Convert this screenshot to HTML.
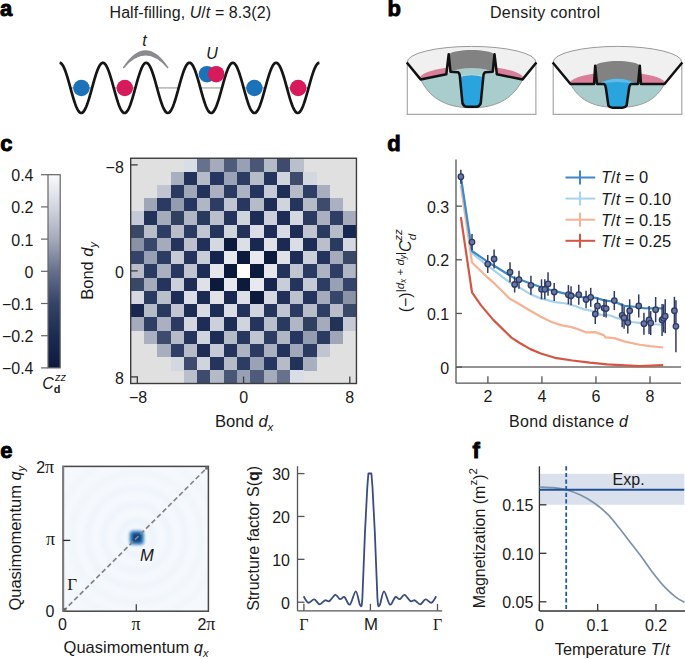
<!DOCTYPE html>
<html><head><meta charset="utf-8"><style>
html,body{margin:0;padding:0;background:#fff;}
body{width:685px;height:659px;overflow:hidden;font-family:"Liberation Sans", sans-serif;}
svg{display:block;}
</style></head><body>
<svg width="685" height="659" viewBox="0 0 685 659" fill="#1a1a1a">
<text x="0" y="15.8" font-size="22" font-weight="bold" font-family='"Liberation Sans", sans-serif' stroke="#000" stroke-width="0.9" fill="#000">a</text>
<text x="387.5" y="15.7" font-size="22" font-weight="bold" font-family='"Liberation Sans", sans-serif' stroke="#000" stroke-width="0.9" fill="#000">b</text>
<text x="0.3" y="151" font-size="22" font-weight="bold" font-family='"Liberation Sans", sans-serif' stroke="#000" stroke-width="0.9" fill="#000">c</text>
<text x="387.3" y="150.8" font-size="22" font-weight="bold" font-family='"Liberation Sans", sans-serif' stroke="#000" stroke-width="0.9" fill="#000">d</text>
<text x="0.2" y="458" font-size="22" font-weight="bold" font-family='"Liberation Sans", sans-serif' stroke="#000" stroke-width="0.9" fill="#000">e</text>
<text x="472.6" y="457.8" font-size="22" font-weight="bold" font-family='"Liberation Sans", sans-serif' stroke="#000" stroke-width="0.9" fill="#000">f</text>
<text x="109.50" y="17.90" font-size="16" text-anchor="start" font-family='"Liberation Sans", sans-serif'  textLength="161.5" lengthAdjust="spacing">Half-filling, <tspan font-style="italic">U</tspan>/<tspan font-style="italic">t</tspan> = 8.3(2)</text>
<line x1="69.75" y1="87.9" x2="92.75" y2="87.9" stroke="#b4b4b4" stroke-width="1.5"/>
<line x1="113.05" y1="87.9" x2="136.05" y2="87.9" stroke="#b4b4b4" stroke-width="1.5"/>
<line x1="156.35" y1="87.9" x2="179.35" y2="87.9" stroke="#b4b4b4" stroke-width="1.5"/>
<line x1="199.65" y1="87.9" x2="222.65" y2="87.9" stroke="#b4b4b4" stroke-width="1.5"/>
<line x1="242.95" y1="87.9" x2="265.95" y2="87.9" stroke="#b4b4b4" stroke-width="1.5"/>
<line x1="286.25" y1="87.9" x2="309.25" y2="87.9" stroke="#b4b4b4" stroke-width="1.5"/>
<polyline points="59.60,62.80 60.25,62.91 60.90,63.24 61.55,63.80 62.20,64.56 62.85,65.54 63.50,66.71 64.15,68.07 64.80,69.60 65.45,71.30 66.09,73.15 66.74,75.12 67.39,77.21 68.04,79.40 68.69,81.66 69.34,83.97 69.99,86.32 70.64,88.69 71.29,91.05 71.94,93.38 72.59,95.66 73.24,97.87 73.89,99.99 74.54,102.01 75.19,103.90 75.84,105.65 76.49,107.24 77.14,108.66 77.79,109.90 78.44,110.94 79.08,111.77 79.73,112.40 80.38,112.80 81.03,112.99 81.68,112.95 82.33,112.69 82.98,112.21 83.63,111.52 84.28,110.61 84.93,109.50 85.58,108.21 86.23,106.73 86.88,105.08 87.53,103.28 88.18,101.35 88.83,99.30 89.48,97.14 90.13,94.90 90.78,92.60 91.43,90.26 92.07,87.90 92.72,85.54 93.37,83.20 94.02,80.90 94.67,78.66 95.32,76.50 95.97,74.45 96.62,72.52 97.27,70.72 97.92,69.07 98.57,67.59 99.22,66.30 99.87,65.19 100.52,64.28 101.17,63.59 101.82,63.11 102.47,62.85 103.12,62.81 103.77,63.00 104.42,63.40 105.06,64.03 105.71,64.86 106.36,65.90 107.01,67.14 107.66,68.56 108.31,70.15 108.96,71.90 109.61,73.79 110.26,75.81 110.91,77.93 111.56,80.14 112.21,82.42 112.86,84.75 113.51,87.11 114.16,89.48 114.81,91.83 115.46,94.14 116.11,96.40 116.76,98.59 117.41,100.68 118.05,102.65 118.70,104.50 119.35,106.20 120.00,107.73 120.65,109.09 121.30,110.26 121.95,111.24 122.60,112.00 123.25,112.56 123.90,112.89 124.55,113.00 125.20,112.89 125.85,112.56 126.50,112.00 127.15,111.24 127.80,110.26 128.45,109.09 129.10,107.73 129.75,106.20 130.40,104.50 131.04,102.65 131.69,100.68 132.34,98.59 132.99,96.40 133.64,94.14 134.29,91.83 134.94,89.48 135.59,87.11 136.24,84.75 136.89,82.42 137.54,80.14 138.19,77.93 138.84,75.81 139.49,73.79 140.14,71.90 140.79,70.15 141.44,68.56 142.09,67.14 142.74,65.90 143.39,64.86 144.03,64.03 144.68,63.40 145.33,63.00 145.98,62.81 146.63,62.85 147.28,63.11 147.93,63.59 148.58,64.28 149.23,65.19 149.88,66.30 150.53,67.59 151.18,69.07 151.83,70.72 152.48,72.52 153.13,74.45 153.78,76.50 154.43,78.66 155.08,80.90 155.73,83.20 156.38,85.54 157.02,87.90 157.67,90.26 158.32,92.60 158.97,94.90 159.62,97.14 160.27,99.30 160.92,101.35 161.57,103.28 162.22,105.08 162.87,106.73 163.52,108.21 164.17,109.50 164.82,110.61 165.47,111.52 166.12,112.21 166.77,112.69 167.42,112.95 168.07,112.99 168.72,112.80 169.37,112.40 170.01,111.77 170.66,110.94 171.31,109.90 171.96,108.66 172.61,107.24 173.26,105.65 173.91,103.90 174.56,102.01 175.21,99.99 175.86,97.87 176.51,95.66 177.16,93.38 177.81,91.05 178.46,88.69 179.11,86.32 179.76,83.97 180.41,81.66 181.06,79.40 181.71,77.21 182.36,75.12 183.00,73.15 183.65,71.30 184.30,69.60 184.95,68.07 185.60,66.71 186.25,65.54 186.90,64.56 187.55,63.80 188.20,63.24 188.85,62.91 189.50,62.80 190.15,62.91 190.80,63.24 191.45,63.80 192.10,64.56 192.75,65.54 193.40,66.71 194.05,68.07 194.70,69.60 195.35,71.30 195.99,73.15 196.64,75.12 197.29,77.21 197.94,79.40 198.59,81.66 199.24,83.97 199.89,86.32 200.54,88.69 201.19,91.05 201.84,93.38 202.49,95.66 203.14,97.87 203.79,99.99 204.44,102.01 205.09,103.90 205.74,105.65 206.39,107.24 207.04,108.66 207.69,109.90 208.34,110.94 208.98,111.77 209.63,112.40 210.28,112.80 210.93,112.99 211.58,112.95 212.23,112.69 212.88,112.21 213.53,111.52 214.18,110.61 214.83,109.50 215.48,108.21 216.13,106.73 216.78,105.08 217.43,103.28 218.08,101.35 218.73,99.30 219.38,97.14 220.03,94.90 220.68,92.60 221.33,90.26 221.97,87.90 222.62,85.54 223.27,83.20 223.92,80.90 224.57,78.66 225.22,76.50 225.87,74.45 226.52,72.52 227.17,70.72 227.82,69.07 228.47,67.59 229.12,66.30 229.77,65.19 230.42,64.28 231.07,63.59 231.72,63.11 232.37,62.85 233.02,62.81 233.67,63.00 234.32,63.40 234.96,64.03 235.61,64.86 236.26,65.90 236.91,67.14 237.56,68.56 238.21,70.15 238.86,71.90 239.51,73.79 240.16,75.81 240.81,77.93 241.46,80.14 242.11,82.42 242.76,84.75 243.41,87.11 244.06,89.48 244.71,91.83 245.36,94.14 246.01,96.40 246.66,98.59 247.31,100.68 247.95,102.65 248.60,104.50 249.25,106.20 249.90,107.73 250.55,109.09 251.20,110.26 251.85,111.24 252.50,112.00 253.15,112.56 253.80,112.89 254.45,113.00 255.10,112.89 255.75,112.56 256.40,112.00 257.05,111.24 257.70,110.26 258.35,109.09 259.00,107.73 259.65,106.20 260.30,104.50 260.94,102.65 261.59,100.68 262.24,98.59 262.89,96.40 263.54,94.14 264.19,91.83 264.84,89.48 265.49,87.11 266.14,84.75 266.79,82.42 267.44,80.14 268.09,77.93 268.74,75.81 269.39,73.79 270.04,71.90 270.69,70.15 271.34,68.56 271.99,67.14 272.64,65.90 273.29,64.86 273.93,64.03 274.58,63.40 275.23,63.00 275.88,62.81 276.53,62.85 277.18,63.11 277.83,63.59 278.48,64.28 279.13,65.19 279.78,66.30 280.43,67.59 281.08,69.07 281.73,70.72 282.38,72.52 283.03,74.45 283.68,76.50 284.33,78.66 284.98,80.90 285.63,83.20 286.28,85.54 286.92,87.90 287.57,90.26 288.22,92.60 288.87,94.90 289.52,97.14 290.17,99.30 290.82,101.35 291.47,103.28 292.12,105.08 292.77,106.73 293.42,108.21 294.07,109.50 294.72,110.61 295.37,111.52 296.02,112.21 296.67,112.69 297.32,112.95 297.97,112.99 298.62,112.80 299.27,112.40 299.91,111.77 300.56,110.94 301.21,109.90 301.86,108.66 302.51,107.24 303.16,105.65 303.81,103.90 304.46,102.01 305.11,99.99 305.76,97.87 306.41,95.66 307.06,93.38 307.71,91.05 308.36,88.69 309.01,86.32 309.66,83.97 310.31,81.66 310.96,79.40 311.61,77.21 312.26,75.12 312.90,73.15 313.55,71.30 314.20,69.60 314.85,68.07 315.50,66.71 316.15,65.54 316.80,64.56 317.45,63.80 318.10,63.24 318.75,62.91 319.40,62.80" fill="none" stroke="#151515" stroke-width="2.7"/>
<circle cx="81.4" cy="88" r="8.3" fill="#1c72b8"/>
<circle cx="124.8" cy="88" r="8.3" fill="#d71a5c"/>
<circle cx="254.4" cy="88" r="8.3" fill="#1c72b8"/>
<circle cx="298.2" cy="88" r="8.3" fill="#d71a5c"/>
<circle cx="207" cy="74.2" r="8.3" fill="#1c72b8"/>
<circle cx="216.2" cy="74.2" r="8.3" fill="#d71a5c"/>
<path d="M122.8,67.6 Q145.5,33 168.6,67.6 L167.6,68.4 Q145.5,42.6 123.8,68.4 Z" fill="#8a8b8e"/>
<text x="142.20" y="46.20" font-size="16" text-anchor="start" font-family='"Liberation Sans", sans-serif' font-style="italic">t</text>
<text x="206.20" y="58.70" font-size="16" text-anchor="start" font-family='"Liberation Sans", sans-serif' font-style="italic">U</text>
<text x="490.00" y="17.60" font-size="16" text-anchor="start" font-family='"Liberation Sans", sans-serif'  textLength="110" lengthAdjust="spacing">Density control</text>
<path d="M407.3,62 L407.3,114.3 L535.9,114.3 L535.9,62" fill="none" stroke="#a8a8a8" stroke-width="1.2"/>
<path d="M407.3,62 A64.3,15.6 0 0 1 535.9,62 L522.6,79.4 L420.6,79.4 Z" fill="#f0f0f0"/>
<path d="M407.3,62 A64.3,15.6 0 0 1 535.9,62" fill="none" stroke="#9a9a9a" stroke-width="1"/>
<path d="M420.6,79.4 C428.6,96 443.6,107.8 471.6,107.8 C499.6,107.8 514.6,96 522.6,79.4 L491.6,72 L451.6,72 Z" fill="#a9cccc"/>
<path d="M420.6,79.4 C428.6,96 443.6,107.8 471.6,107.8 C499.6,107.8 514.6,96 522.6,79.4" fill="none" stroke="#9c9c9c" stroke-width="1"/>
<path d="M419.6,78.4 A54,13 0 0 1 447.6,67.5 L447.6,74 L420.6,79.4 Z" fill="#d97f9a"/>
<path d="M523.6,78.4 A54,13 0 0 0 495.6,67.5 L495.6,74 L522.6,79.4 Z" fill="#d97f9a"/>
<path d="M449.6,72 Q471.6,63.5 493.6,72 L493.6,77 L449.6,77 Z" fill="#a9cccc"/>
<path d="M448.8,54.6 C453.6,48.5 489.6,48.5 494.40000000000003,54.6 L494.40000000000003,72 Q471.6,64 448.8,72 Z" fill="#828282"/>
<path d="M460.0,76.5 Q471.6,73 483.20000000000005,76.5 L480.1,103.4 Q479.1,106.6 476.6,106.6 L466.6,106.6 Q464.1,106.6 463.1,103.4 Z" fill="#29a4de"/>
<path d="M460.0,76.5 Q471.6,73 483.20000000000005,76.5" fill="none" stroke="#c0d8dc" stroke-width="1"/>
<path d="M406.8,62.5 L420.6,79.4 L446.3,74.3 L448.70000000000005,54.2 L450.5,71.8 L457.8,72.2 Q459.6,73 459.8,76 L462.5,103.4 Q464.1,106.8 466.6,106.8 L476.6,106.8 Q479.1,106.8 480.70000000000005,103.4 L483.40000000000003,76 Q483.6,73 485.40000000000003,72.2 L492.70000000000005,71.8 L494.5,54.2 L496.90000000000003,74.3 L522.6,79.4 L536.4,62.5" fill="none" stroke="#111" stroke-width="2.5" stroke-linejoin="round"/>
<path d="M553.2,62 L553.2,114.3 L681.8000000000001,114.3 L681.8000000000001,62" fill="none" stroke="#a8a8a8" stroke-width="1.2"/>
<path d="M553.2,62 A64.3,15.6 0 0 1 681.8000000000001,62 L664.5000000000001,84 L570.5,84 Z" fill="#f0f0f0"/>
<path d="M553.2,62 A64.3,15.6 0 0 1 681.8000000000001,62" fill="none" stroke="#9a9a9a" stroke-width="1"/>
<path d="M570.5,84 C578.5,99 591.5,107.5 617.5,107.5 C643.5,107.5 656.5000000000001,99 664.5000000000001,84 Z" fill="#a9cccc"/>
<path d="M570.5,84 C578.5,99 591.5,107.5 617.5,107.5 C643.5,107.5 656.5000000000001,99 664.5000000000001,84" fill="none" stroke="#9c9c9c" stroke-width="1"/>
<path d="M569.5,83.5 A48,12 0 0 1 597.5,73.2 L597.5,84 L570.5,84 Z" fill="#d97f9a"/>
<path d="M665.5000000000001,83.5 A48,12 0 0 0 637.5,73.2 L637.5,84 L664.5000000000001,84 Z" fill="#d97f9a"/>
<path d="M595.2,65.7 C600.5,59.5 634.5,59.5 639.8,65.7 L639.8,84 L595.2,84 Z" fill="#828282"/>
<path d="M596.7,84.5 Q617.5,73 638.3,84.5 L629.5,84.5 L626.6,105.5 Q625.0,107.6 622.5,107.6 L612.5,107.6 Q610.0,107.6 608.4,105.5 L605.5,84.5 Z" fill="#29a4de"/>
<path d="M596.7,84.5 Q617.5,73 638.3,84.5 Q617.5,79.5 596.7,84.5 Z" fill="#5fbbe8"/>
<path d="M552.7,62.5 L570.5,84 L594.0,84 L595.2,65.7 L597.0,84 L604.1,84 Q605.5,85 605.9,88 L608.4,105.5 Q610.0,107.8 612.5,107.8 L622.5,107.8 Q625.0,107.8 626.6,105.5 L629.1,88 Q629.5,85 630.9,84 L638.0,84 L639.8,65.7 L641.0,84 L664.5000000000001,84 L682.3000000000001,62.5" fill="none" stroke="#111" stroke-width="2.5" stroke-linejoin="round"/>
<rect x="130.7" y="158.25" width="225.76" height="225.25" fill="#e0e0e0"/>
<rect x="183.82" y="158.25" width="13.58" height="13.55" fill="#d9dde6" shape-rendering="crispEdges"/>
<rect x="197.10" y="158.25" width="13.58" height="13.55" fill="#67718c" shape-rendering="crispEdges"/>
<rect x="210.38" y="158.25" width="13.58" height="13.55" fill="#a5abbb" shape-rendering="crispEdges"/>
<rect x="223.66" y="158.25" width="13.58" height="13.55" fill="#4f5b7b" shape-rendering="crispEdges"/>
<rect x="236.94" y="158.25" width="13.58" height="13.55" fill="#98a0b3" shape-rendering="crispEdges"/>
<rect x="250.22" y="158.25" width="13.58" height="13.55" fill="#4a5675" shape-rendering="crispEdges"/>
<rect x="263.50" y="158.25" width="13.58" height="13.55" fill="#b5bac7" shape-rendering="crispEdges"/>
<rect x="276.78" y="158.25" width="13.58" height="13.55" fill="#3e4b6c" shape-rendering="crispEdges"/>
<rect x="290.06" y="158.25" width="13.58" height="13.55" fill="#b9bfcb" shape-rendering="crispEdges"/>
<rect x="170.54" y="171.50" width="13.58" height="13.55" fill="#a8afbe" shape-rendering="crispEdges"/>
<rect x="183.82" y="171.50" width="13.58" height="13.55" fill="#22335a" shape-rendering="crispEdges"/>
<rect x="197.10" y="171.50" width="13.58" height="13.55" fill="#b5bbc7" shape-rendering="crispEdges"/>
<rect x="210.38" y="171.50" width="13.58" height="13.55" fill="#263660" shape-rendering="crispEdges"/>
<rect x="223.66" y="171.50" width="13.58" height="13.55" fill="#9aa2b5" shape-rendering="crispEdges"/>
<rect x="236.94" y="171.50" width="13.58" height="13.55" fill="#2c3c62" shape-rendering="crispEdges"/>
<rect x="250.22" y="171.50" width="13.58" height="13.55" fill="#b5bbc7" shape-rendering="crispEdges"/>
<rect x="263.50" y="171.50" width="13.58" height="13.55" fill="#24345c" shape-rendering="crispEdges"/>
<rect x="276.78" y="171.50" width="13.58" height="13.55" fill="#d0d4dd" shape-rendering="crispEdges"/>
<rect x="290.06" y="171.50" width="13.58" height="13.55" fill="#3e4b6c" shape-rendering="crispEdges"/>
<rect x="303.34" y="171.50" width="13.58" height="13.55" fill="#d3d7e0" shape-rendering="crispEdges"/>
<rect x="157.26" y="184.75" width="13.58" height="13.55" fill="#c0c5d1" shape-rendering="crispEdges"/>
<rect x="170.54" y="184.75" width="13.58" height="13.55" fill="#2a3a60" shape-rendering="crispEdges"/>
<rect x="183.82" y="184.75" width="13.58" height="13.55" fill="#a0a7b8" shape-rendering="crispEdges"/>
<rect x="197.10" y="184.75" width="13.58" height="13.55" fill="#22325a" shape-rendering="crispEdges"/>
<rect x="210.38" y="184.75" width="13.58" height="13.55" fill="#aab0bf" shape-rendering="crispEdges"/>
<rect x="223.66" y="184.75" width="13.58" height="13.55" fill="#2a3a60" shape-rendering="crispEdges"/>
<rect x="236.94" y="184.75" width="13.58" height="13.55" fill="#adb3c2" shape-rendering="crispEdges"/>
<rect x="250.22" y="184.75" width="13.58" height="13.55" fill="#24345c" shape-rendering="crispEdges"/>
<rect x="263.50" y="184.75" width="13.58" height="13.55" fill="#c5cad6" shape-rendering="crispEdges"/>
<rect x="276.78" y="184.75" width="13.58" height="13.55" fill="#1e2d55" shape-rendering="crispEdges"/>
<rect x="290.06" y="184.75" width="13.58" height="13.55" fill="#b5bbc7" shape-rendering="crispEdges"/>
<rect x="303.34" y="184.75" width="13.58" height="13.55" fill="#2e3e64" shape-rendering="crispEdges"/>
<rect x="316.62" y="184.75" width="13.58" height="13.55" fill="#a8aebd" shape-rendering="crispEdges"/>
<rect x="143.98" y="198.00" width="13.58" height="13.55" fill="#a0a6b7" shape-rendering="crispEdges"/>
<rect x="157.26" y="198.00" width="13.58" height="13.55" fill="#2a3a60" shape-rendering="crispEdges"/>
<rect x="170.54" y="198.00" width="13.58" height="13.55" fill="#949cb0" shape-rendering="crispEdges"/>
<rect x="183.82" y="198.00" width="13.58" height="13.55" fill="#263660" shape-rendering="crispEdges"/>
<rect x="197.10" y="198.00" width="13.58" height="13.55" fill="#b0b6c4" shape-rendering="crispEdges"/>
<rect x="210.38" y="198.00" width="13.58" height="13.55" fill="#2c3c62" shape-rendering="crispEdges"/>
<rect x="223.66" y="198.00" width="13.58" height="13.55" fill="#c0c5d1" shape-rendering="crispEdges"/>
<rect x="236.94" y="198.00" width="13.58" height="13.55" fill="#273760" shape-rendering="crispEdges"/>
<rect x="250.22" y="198.00" width="13.58" height="13.55" fill="#b5bbc7" shape-rendering="crispEdges"/>
<rect x="263.50" y="198.00" width="13.58" height="13.55" fill="#1e2d55" shape-rendering="crispEdges"/>
<rect x="276.78" y="198.00" width="13.58" height="13.55" fill="#d0d4dd" shape-rendering="crispEdges"/>
<rect x="290.06" y="198.00" width="13.58" height="13.55" fill="#24345c" shape-rendering="crispEdges"/>
<rect x="303.34" y="198.00" width="13.58" height="13.55" fill="#b5bbc7" shape-rendering="crispEdges"/>
<rect x="316.62" y="198.00" width="13.58" height="13.55" fill="#3e4b6c" shape-rendering="crispEdges"/>
<rect x="329.90" y="198.00" width="13.58" height="13.55" fill="#aab0bf" shape-rendering="crispEdges"/>
<rect x="130.70" y="211.25" width="13.58" height="13.55" fill="#c5cad6" shape-rendering="crispEdges"/>
<rect x="143.98" y="211.25" width="13.58" height="13.55" fill="#22335a" shape-rendering="crispEdges"/>
<rect x="157.26" y="211.25" width="13.58" height="13.55" fill="#a5abbb" shape-rendering="crispEdges"/>
<rect x="170.54" y="211.25" width="13.58" height="13.55" fill="#30405f" shape-rendering="crispEdges"/>
<rect x="183.82" y="211.25" width="13.58" height="13.55" fill="#b0b6c4" shape-rendering="crispEdges"/>
<rect x="197.10" y="211.25" width="13.58" height="13.55" fill="#293a5f" shape-rendering="crispEdges"/>
<rect x="210.38" y="211.25" width="13.58" height="13.55" fill="#b9bfcb" shape-rendering="crispEdges"/>
<rect x="223.66" y="211.25" width="13.58" height="13.55" fill="#24345c" shape-rendering="crispEdges"/>
<rect x="236.94" y="211.25" width="13.58" height="13.55" fill="#d0d4dd" shape-rendering="crispEdges"/>
<rect x="250.22" y="211.25" width="13.58" height="13.55" fill="#1e2d55" shape-rendering="crispEdges"/>
<rect x="263.50" y="211.25" width="13.58" height="13.55" fill="#ccd0da" shape-rendering="crispEdges"/>
<rect x="276.78" y="211.25" width="13.58" height="13.55" fill="#1e2d55" shape-rendering="crispEdges"/>
<rect x="290.06" y="211.25" width="13.58" height="13.55" fill="#d3d7e0" shape-rendering="crispEdges"/>
<rect x="303.34" y="211.25" width="13.58" height="13.55" fill="#2a3a60" shape-rendering="crispEdges"/>
<rect x="316.62" y="211.25" width="13.58" height="13.55" fill="#aab0bf" shape-rendering="crispEdges"/>
<rect x="329.90" y="211.25" width="13.58" height="13.55" fill="#2e3e64" shape-rendering="crispEdges"/>
<rect x="343.18" y="211.25" width="13.58" height="13.55" fill="#a5abbb" shape-rendering="crispEdges"/>
<rect x="130.70" y="224.50" width="13.58" height="13.55" fill="#3a4868" shape-rendering="crispEdges"/>
<rect x="143.98" y="224.50" width="13.58" height="13.55" fill="#b8bdc9" shape-rendering="crispEdges"/>
<rect x="157.26" y="224.50" width="13.58" height="13.55" fill="#2d3d63" shape-rendering="crispEdges"/>
<rect x="170.54" y="224.50" width="13.58" height="13.55" fill="#b8bdc9" shape-rendering="crispEdges"/>
<rect x="183.82" y="224.50" width="13.58" height="13.55" fill="#2a3a60" shape-rendering="crispEdges"/>
<rect x="197.10" y="224.50" width="13.58" height="13.55" fill="#c0c5d1" shape-rendering="crispEdges"/>
<rect x="210.38" y="224.50" width="13.58" height="13.55" fill="#24345c" shape-rendering="crispEdges"/>
<rect x="223.66" y="224.50" width="13.58" height="13.55" fill="#d0d4dd" shape-rendering="crispEdges"/>
<rect x="236.94" y="224.50" width="13.58" height="13.55" fill="#22325a" shape-rendering="crispEdges"/>
<rect x="250.22" y="224.50" width="13.58" height="13.55" fill="#dadde5" shape-rendering="crispEdges"/>
<rect x="263.50" y="224.50" width="13.58" height="13.55" fill="#1e2d55" shape-rendering="crispEdges"/>
<rect x="276.78" y="224.50" width="13.58" height="13.55" fill="#d8dbe3" shape-rendering="crispEdges"/>
<rect x="290.06" y="224.50" width="13.58" height="13.55" fill="#1e2d55" shape-rendering="crispEdges"/>
<rect x="303.34" y="224.50" width="13.58" height="13.55" fill="#c0c5d1" shape-rendering="crispEdges"/>
<rect x="316.62" y="224.50" width="13.58" height="13.55" fill="#293a5f" shape-rendering="crispEdges"/>
<rect x="329.90" y="224.50" width="13.58" height="13.55" fill="#b5bbc7" shape-rendering="crispEdges"/>
<rect x="343.18" y="224.50" width="13.58" height="13.55" fill="#172750" shape-rendering="crispEdges"/>
<rect x="130.70" y="237.75" width="13.58" height="13.55" fill="#8a93a6" shape-rendering="crispEdges"/>
<rect x="143.98" y="237.75" width="13.58" height="13.55" fill="#37466a" shape-rendering="crispEdges"/>
<rect x="157.26" y="237.75" width="13.58" height="13.55" fill="#a5abbb" shape-rendering="crispEdges"/>
<rect x="170.54" y="237.75" width="13.58" height="13.55" fill="#24345c" shape-rendering="crispEdges"/>
<rect x="183.82" y="237.75" width="13.58" height="13.55" fill="#bcc1cd" shape-rendering="crispEdges"/>
<rect x="197.10" y="237.75" width="13.58" height="13.55" fill="#203059" shape-rendering="crispEdges"/>
<rect x="210.38" y="237.75" width="13.58" height="13.55" fill="#d5d8e0" shape-rendering="crispEdges"/>
<rect x="223.66" y="237.75" width="13.58" height="13.55" fill="#0c1a3c" shape-rendering="crispEdges"/>
<rect x="236.94" y="237.75" width="13.58" height="13.55" fill="#dcdfe6" shape-rendering="crispEdges"/>
<rect x="250.22" y="237.75" width="13.58" height="13.55" fill="#182850" shape-rendering="crispEdges"/>
<rect x="263.50" y="237.75" width="13.58" height="13.55" fill="#e0e2e8" shape-rendering="crispEdges"/>
<rect x="276.78" y="237.75" width="13.58" height="13.55" fill="#1a2a52" shape-rendering="crispEdges"/>
<rect x="290.06" y="237.75" width="13.58" height="13.55" fill="#dadde5" shape-rendering="crispEdges"/>
<rect x="303.34" y="237.75" width="13.58" height="13.55" fill="#1e2d55" shape-rendering="crispEdges"/>
<rect x="316.62" y="237.75" width="13.58" height="13.55" fill="#b9bfcb" shape-rendering="crispEdges"/>
<rect x="329.90" y="237.75" width="13.58" height="13.55" fill="#2a3a60" shape-rendering="crispEdges"/>
<rect x="343.18" y="237.75" width="13.58" height="13.55" fill="#d5d8e0" shape-rendering="crispEdges"/>
<rect x="130.70" y="251.00" width="13.58" height="13.55" fill="#34436a" shape-rendering="crispEdges"/>
<rect x="143.98" y="251.00" width="13.58" height="13.55" fill="#98a0b3" shape-rendering="crispEdges"/>
<rect x="157.26" y="251.00" width="13.58" height="13.55" fill="#2c3c62" shape-rendering="crispEdges"/>
<rect x="170.54" y="251.00" width="13.58" height="13.55" fill="#c5cad6" shape-rendering="crispEdges"/>
<rect x="183.82" y="251.00" width="13.58" height="13.55" fill="#24345c" shape-rendering="crispEdges"/>
<rect x="197.10" y="251.00" width="13.58" height="13.55" fill="#c9cdd8" shape-rendering="crispEdges"/>
<rect x="210.38" y="251.00" width="13.58" height="13.55" fill="#15254d" shape-rendering="crispEdges"/>
<rect x="223.66" y="251.00" width="13.58" height="13.55" fill="#e8e9ee" shape-rendering="crispEdges"/>
<rect x="236.94" y="251.00" width="13.58" height="13.55" fill="#0c1a3c" shape-rendering="crispEdges"/>
<rect x="250.22" y="251.00" width="13.58" height="13.55" fill="#e8e9ee" shape-rendering="crispEdges"/>
<rect x="263.50" y="251.00" width="13.58" height="13.55" fill="#0c1a3c" shape-rendering="crispEdges"/>
<rect x="276.78" y="251.00" width="13.58" height="13.55" fill="#dfe1e7" shape-rendering="crispEdges"/>
<rect x="290.06" y="251.00" width="13.58" height="13.55" fill="#1e2d55" shape-rendering="crispEdges"/>
<rect x="303.34" y="251.00" width="13.58" height="13.55" fill="#ccd0da" shape-rendering="crispEdges"/>
<rect x="316.62" y="251.00" width="13.58" height="13.55" fill="#24345c" shape-rendering="crispEdges"/>
<rect x="329.90" y="251.00" width="13.58" height="13.55" fill="#a5abbb" shape-rendering="crispEdges"/>
<rect x="343.18" y="251.00" width="13.58" height="13.55" fill="#3a4868" shape-rendering="crispEdges"/>
<rect x="130.70" y="264.25" width="13.58" height="13.55" fill="#b8bdc9" shape-rendering="crispEdges"/>
<rect x="143.98" y="264.25" width="13.58" height="13.55" fill="#2a3a60" shape-rendering="crispEdges"/>
<rect x="157.26" y="264.25" width="13.58" height="13.55" fill="#aab0bf" shape-rendering="crispEdges"/>
<rect x="170.54" y="264.25" width="13.58" height="13.55" fill="#273760" shape-rendering="crispEdges"/>
<rect x="183.82" y="264.25" width="13.58" height="13.55" fill="#c0c5d1" shape-rendering="crispEdges"/>
<rect x="197.10" y="264.25" width="13.58" height="13.55" fill="#1e2d55" shape-rendering="crispEdges"/>
<rect x="210.38" y="264.25" width="13.58" height="13.55" fill="#e4e6ec" shape-rendering="crispEdges"/>
<rect x="223.66" y="264.25" width="13.58" height="13.55" fill="#0c1a3c" shape-rendering="crispEdges"/>
<rect x="236.94" y="264.25" width="13.58" height="13.55" fill="#ffffff" shape-rendering="crispEdges"/>
<rect x="250.22" y="264.25" width="13.58" height="13.55" fill="#0c1a3c" shape-rendering="crispEdges"/>
<rect x="263.50" y="264.25" width="13.58" height="13.55" fill="#e4e6ec" shape-rendering="crispEdges"/>
<rect x="276.78" y="264.25" width="13.58" height="13.55" fill="#22325a" shape-rendering="crispEdges"/>
<rect x="290.06" y="264.25" width="13.58" height="13.55" fill="#c0c5d1" shape-rendering="crispEdges"/>
<rect x="303.34" y="264.25" width="13.58" height="13.55" fill="#2a3a60" shape-rendering="crispEdges"/>
<rect x="316.62" y="264.25" width="13.58" height="13.55" fill="#adb3c2" shape-rendering="crispEdges"/>
<rect x="329.90" y="264.25" width="13.58" height="13.55" fill="#2e3e64" shape-rendering="crispEdges"/>
<rect x="343.18" y="264.25" width="13.58" height="13.55" fill="#b0b6c4" shape-rendering="crispEdges"/>
<rect x="130.70" y="277.50" width="13.58" height="13.55" fill="#3a4868" shape-rendering="crispEdges"/>
<rect x="143.98" y="277.50" width="13.58" height="13.55" fill="#a5abbb" shape-rendering="crispEdges"/>
<rect x="157.26" y="277.50" width="13.58" height="13.55" fill="#24345c" shape-rendering="crispEdges"/>
<rect x="170.54" y="277.50" width="13.58" height="13.55" fill="#ccd0da" shape-rendering="crispEdges"/>
<rect x="183.82" y="277.50" width="13.58" height="13.55" fill="#1e2d55" shape-rendering="crispEdges"/>
<rect x="197.10" y="277.50" width="13.58" height="13.55" fill="#dfe1e7" shape-rendering="crispEdges"/>
<rect x="210.38" y="277.50" width="13.58" height="13.55" fill="#0c1a3c" shape-rendering="crispEdges"/>
<rect x="223.66" y="277.50" width="13.58" height="13.55" fill="#e8e9ee" shape-rendering="crispEdges"/>
<rect x="236.94" y="277.50" width="13.58" height="13.55" fill="#0c1a3c" shape-rendering="crispEdges"/>
<rect x="250.22" y="277.50" width="13.58" height="13.55" fill="#e8e9ee" shape-rendering="crispEdges"/>
<rect x="263.50" y="277.50" width="13.58" height="13.55" fill="#15254d" shape-rendering="crispEdges"/>
<rect x="276.78" y="277.50" width="13.58" height="13.55" fill="#c9cdd8" shape-rendering="crispEdges"/>
<rect x="290.06" y="277.50" width="13.58" height="13.55" fill="#24345c" shape-rendering="crispEdges"/>
<rect x="303.34" y="277.50" width="13.58" height="13.55" fill="#c5cad6" shape-rendering="crispEdges"/>
<rect x="316.62" y="277.50" width="13.58" height="13.55" fill="#2c3c62" shape-rendering="crispEdges"/>
<rect x="329.90" y="277.50" width="13.58" height="13.55" fill="#98a0b3" shape-rendering="crispEdges"/>
<rect x="343.18" y="277.50" width="13.58" height="13.55" fill="#34436a" shape-rendering="crispEdges"/>
<rect x="130.70" y="290.75" width="13.58" height="13.55" fill="#d5d8e0" shape-rendering="crispEdges"/>
<rect x="143.98" y="290.75" width="13.58" height="13.55" fill="#2a3a60" shape-rendering="crispEdges"/>
<rect x="157.26" y="290.75" width="13.58" height="13.55" fill="#b9bfcb" shape-rendering="crispEdges"/>
<rect x="170.54" y="290.75" width="13.58" height="13.55" fill="#1e2d55" shape-rendering="crispEdges"/>
<rect x="183.82" y="290.75" width="13.58" height="13.55" fill="#dadde5" shape-rendering="crispEdges"/>
<rect x="197.10" y="290.75" width="13.58" height="13.55" fill="#1a2a52" shape-rendering="crispEdges"/>
<rect x="210.38" y="290.75" width="13.58" height="13.55" fill="#e0e2e8" shape-rendering="crispEdges"/>
<rect x="223.66" y="290.75" width="13.58" height="13.55" fill="#182850" shape-rendering="crispEdges"/>
<rect x="236.94" y="290.75" width="13.58" height="13.55" fill="#dcdfe6" shape-rendering="crispEdges"/>
<rect x="250.22" y="290.75" width="13.58" height="13.55" fill="#0c1a3c" shape-rendering="crispEdges"/>
<rect x="263.50" y="290.75" width="13.58" height="13.55" fill="#d5d8e0" shape-rendering="crispEdges"/>
<rect x="276.78" y="290.75" width="13.58" height="13.55" fill="#203059" shape-rendering="crispEdges"/>
<rect x="290.06" y="290.75" width="13.58" height="13.55" fill="#bcc1cd" shape-rendering="crispEdges"/>
<rect x="303.34" y="290.75" width="13.58" height="13.55" fill="#24345c" shape-rendering="crispEdges"/>
<rect x="316.62" y="290.75" width="13.58" height="13.55" fill="#a5abbb" shape-rendering="crispEdges"/>
<rect x="329.90" y="290.75" width="13.58" height="13.55" fill="#37466a" shape-rendering="crispEdges"/>
<rect x="343.18" y="290.75" width="13.58" height="13.55" fill="#8a93a6" shape-rendering="crispEdges"/>
<rect x="130.70" y="304.00" width="13.58" height="13.55" fill="#172750" shape-rendering="crispEdges"/>
<rect x="143.98" y="304.00" width="13.58" height="13.55" fill="#b5bbc7" shape-rendering="crispEdges"/>
<rect x="157.26" y="304.00" width="13.58" height="13.55" fill="#293a5f" shape-rendering="crispEdges"/>
<rect x="170.54" y="304.00" width="13.58" height="13.55" fill="#c0c5d1" shape-rendering="crispEdges"/>
<rect x="183.82" y="304.00" width="13.58" height="13.55" fill="#1e2d55" shape-rendering="crispEdges"/>
<rect x="197.10" y="304.00" width="13.58" height="13.55" fill="#d8dbe3" shape-rendering="crispEdges"/>
<rect x="210.38" y="304.00" width="13.58" height="13.55" fill="#1e2d55" shape-rendering="crispEdges"/>
<rect x="223.66" y="304.00" width="13.58" height="13.55" fill="#dadde5" shape-rendering="crispEdges"/>
<rect x="236.94" y="304.00" width="13.58" height="13.55" fill="#22325a" shape-rendering="crispEdges"/>
<rect x="250.22" y="304.00" width="13.58" height="13.55" fill="#d0d4dd" shape-rendering="crispEdges"/>
<rect x="263.50" y="304.00" width="13.58" height="13.55" fill="#24345c" shape-rendering="crispEdges"/>
<rect x="276.78" y="304.00" width="13.58" height="13.55" fill="#c0c5d1" shape-rendering="crispEdges"/>
<rect x="290.06" y="304.00" width="13.58" height="13.55" fill="#2a3a60" shape-rendering="crispEdges"/>
<rect x="303.34" y="304.00" width="13.58" height="13.55" fill="#b8bdc9" shape-rendering="crispEdges"/>
<rect x="316.62" y="304.00" width="13.58" height="13.55" fill="#2d3d63" shape-rendering="crispEdges"/>
<rect x="329.90" y="304.00" width="13.58" height="13.55" fill="#b8bdc9" shape-rendering="crispEdges"/>
<rect x="343.18" y="304.00" width="13.58" height="13.55" fill="#3a4868" shape-rendering="crispEdges"/>
<rect x="130.70" y="317.25" width="13.58" height="13.55" fill="#a5abbb" shape-rendering="crispEdges"/>
<rect x="143.98" y="317.25" width="13.58" height="13.55" fill="#2e3e64" shape-rendering="crispEdges"/>
<rect x="157.26" y="317.25" width="13.58" height="13.55" fill="#aab0bf" shape-rendering="crispEdges"/>
<rect x="170.54" y="317.25" width="13.58" height="13.55" fill="#2a3a60" shape-rendering="crispEdges"/>
<rect x="183.82" y="317.25" width="13.58" height="13.55" fill="#d3d7e0" shape-rendering="crispEdges"/>
<rect x="197.10" y="317.25" width="13.58" height="13.55" fill="#1e2d55" shape-rendering="crispEdges"/>
<rect x="210.38" y="317.25" width="13.58" height="13.55" fill="#ccd0da" shape-rendering="crispEdges"/>
<rect x="223.66" y="317.25" width="13.58" height="13.55" fill="#1e2d55" shape-rendering="crispEdges"/>
<rect x="236.94" y="317.25" width="13.58" height="13.55" fill="#d0d4dd" shape-rendering="crispEdges"/>
<rect x="250.22" y="317.25" width="13.58" height="13.55" fill="#24345c" shape-rendering="crispEdges"/>
<rect x="263.50" y="317.25" width="13.58" height="13.55" fill="#b9bfcb" shape-rendering="crispEdges"/>
<rect x="276.78" y="317.25" width="13.58" height="13.55" fill="#293a5f" shape-rendering="crispEdges"/>
<rect x="290.06" y="317.25" width="13.58" height="13.55" fill="#b0b6c4" shape-rendering="crispEdges"/>
<rect x="303.34" y="317.25" width="13.58" height="13.55" fill="#30405f" shape-rendering="crispEdges"/>
<rect x="316.62" y="317.25" width="13.58" height="13.55" fill="#a5abbb" shape-rendering="crispEdges"/>
<rect x="329.90" y="317.25" width="13.58" height="13.55" fill="#22335a" shape-rendering="crispEdges"/>
<rect x="343.18" y="317.25" width="13.58" height="13.55" fill="#c5cad6" shape-rendering="crispEdges"/>
<rect x="143.98" y="330.50" width="13.58" height="13.55" fill="#aab0bf" shape-rendering="crispEdges"/>
<rect x="157.26" y="330.50" width="13.58" height="13.55" fill="#3e4b6c" shape-rendering="crispEdges"/>
<rect x="170.54" y="330.50" width="13.58" height="13.55" fill="#b5bbc7" shape-rendering="crispEdges"/>
<rect x="183.82" y="330.50" width="13.58" height="13.55" fill="#24345c" shape-rendering="crispEdges"/>
<rect x="197.10" y="330.50" width="13.58" height="13.55" fill="#d0d4dd" shape-rendering="crispEdges"/>
<rect x="210.38" y="330.50" width="13.58" height="13.55" fill="#1e2d55" shape-rendering="crispEdges"/>
<rect x="223.66" y="330.50" width="13.58" height="13.55" fill="#b5bbc7" shape-rendering="crispEdges"/>
<rect x="236.94" y="330.50" width="13.58" height="13.55" fill="#273760" shape-rendering="crispEdges"/>
<rect x="250.22" y="330.50" width="13.58" height="13.55" fill="#c0c5d1" shape-rendering="crispEdges"/>
<rect x="263.50" y="330.50" width="13.58" height="13.55" fill="#2c3c62" shape-rendering="crispEdges"/>
<rect x="276.78" y="330.50" width="13.58" height="13.55" fill="#b0b6c4" shape-rendering="crispEdges"/>
<rect x="290.06" y="330.50" width="13.58" height="13.55" fill="#263660" shape-rendering="crispEdges"/>
<rect x="303.34" y="330.50" width="13.58" height="13.55" fill="#949cb0" shape-rendering="crispEdges"/>
<rect x="316.62" y="330.50" width="13.58" height="13.55" fill="#2a3a60" shape-rendering="crispEdges"/>
<rect x="329.90" y="330.50" width="13.58" height="13.55" fill="#a0a6b7" shape-rendering="crispEdges"/>
<rect x="157.26" y="343.75" width="13.58" height="13.55" fill="#a8aebd" shape-rendering="crispEdges"/>
<rect x="170.54" y="343.75" width="13.58" height="13.55" fill="#2e3e64" shape-rendering="crispEdges"/>
<rect x="183.82" y="343.75" width="13.58" height="13.55" fill="#b5bbc7" shape-rendering="crispEdges"/>
<rect x="197.10" y="343.75" width="13.58" height="13.55" fill="#1e2d55" shape-rendering="crispEdges"/>
<rect x="210.38" y="343.75" width="13.58" height="13.55" fill="#c5cad6" shape-rendering="crispEdges"/>
<rect x="223.66" y="343.75" width="13.58" height="13.55" fill="#24345c" shape-rendering="crispEdges"/>
<rect x="236.94" y="343.75" width="13.58" height="13.55" fill="#adb3c2" shape-rendering="crispEdges"/>
<rect x="250.22" y="343.75" width="13.58" height="13.55" fill="#2a3a60" shape-rendering="crispEdges"/>
<rect x="263.50" y="343.75" width="13.58" height="13.55" fill="#aab0bf" shape-rendering="crispEdges"/>
<rect x="276.78" y="343.75" width="13.58" height="13.55" fill="#22325a" shape-rendering="crispEdges"/>
<rect x="290.06" y="343.75" width="13.58" height="13.55" fill="#a0a7b8" shape-rendering="crispEdges"/>
<rect x="303.34" y="343.75" width="13.58" height="13.55" fill="#2a3a60" shape-rendering="crispEdges"/>
<rect x="316.62" y="343.75" width="13.58" height="13.55" fill="#c0c5d1" shape-rendering="crispEdges"/>
<rect x="170.54" y="357.00" width="13.58" height="13.55" fill="#d3d7e0" shape-rendering="crispEdges"/>
<rect x="183.82" y="357.00" width="13.58" height="13.55" fill="#3e4b6c" shape-rendering="crispEdges"/>
<rect x="197.10" y="357.00" width="13.58" height="13.55" fill="#d0d4dd" shape-rendering="crispEdges"/>
<rect x="210.38" y="357.00" width="13.58" height="13.55" fill="#24345c" shape-rendering="crispEdges"/>
<rect x="223.66" y="357.00" width="13.58" height="13.55" fill="#b5bbc7" shape-rendering="crispEdges"/>
<rect x="236.94" y="357.00" width="13.58" height="13.55" fill="#2c3c62" shape-rendering="crispEdges"/>
<rect x="250.22" y="357.00" width="13.58" height="13.55" fill="#9aa2b5" shape-rendering="crispEdges"/>
<rect x="263.50" y="357.00" width="13.58" height="13.55" fill="#263660" shape-rendering="crispEdges"/>
<rect x="276.78" y="357.00" width="13.58" height="13.55" fill="#b5bbc7" shape-rendering="crispEdges"/>
<rect x="290.06" y="357.00" width="13.58" height="13.55" fill="#22335a" shape-rendering="crispEdges"/>
<rect x="303.34" y="357.00" width="13.58" height="13.55" fill="#a8afbe" shape-rendering="crispEdges"/>
<rect x="183.82" y="370.25" width="13.58" height="13.55" fill="#b9bfcb" shape-rendering="crispEdges"/>
<rect x="197.10" y="370.25" width="13.58" height="13.55" fill="#3e4b6c" shape-rendering="crispEdges"/>
<rect x="210.38" y="370.25" width="13.58" height="13.55" fill="#b5bac7" shape-rendering="crispEdges"/>
<rect x="223.66" y="370.25" width="13.58" height="13.55" fill="#4a5675" shape-rendering="crispEdges"/>
<rect x="236.94" y="370.25" width="13.58" height="13.55" fill="#98a0b3" shape-rendering="crispEdges"/>
<rect x="250.22" y="370.25" width="13.58" height="13.55" fill="#4f5b7b" shape-rendering="crispEdges"/>
<rect x="263.50" y="370.25" width="13.58" height="13.55" fill="#a5abbb" shape-rendering="crispEdges"/>
<rect x="276.78" y="370.25" width="13.58" height="13.55" fill="#67718c" shape-rendering="crispEdges"/>
<rect x="290.06" y="370.25" width="13.58" height="13.55" fill="#d9dde6" shape-rendering="crispEdges"/>
<rect x="130.7" y="158.25" width="225.76" height="225.25" fill="none" stroke="#3c3c3c" stroke-width="1.4"/>
<line x1="130.7" y1="164.88" x2="137.7" y2="164.88" stroke="#3c3c3c" stroke-width="1.3"/>
<line x1="137.34" y1="383.50" x2="137.34" y2="376.50" stroke="#3c3c3c" stroke-width="1.3"/>
<line x1="130.7" y1="270.88" x2="137.7" y2="270.88" stroke="#3c3c3c" stroke-width="1.3"/>
<line x1="243.58" y1="383.50" x2="243.58" y2="376.50" stroke="#3c3c3c" stroke-width="1.3"/>
<line x1="130.7" y1="376.88" x2="137.7" y2="376.88" stroke="#3c3c3c" stroke-width="1.3"/>
<line x1="349.82" y1="383.50" x2="349.82" y2="376.50" stroke="#3c3c3c" stroke-width="1.3"/>
<text x="123.80" y="172.60" font-size="16" text-anchor="end" font-family='"Liberation Sans", sans-serif' >−8</text>
<text x="123.80" y="278.20" font-size="16" text-anchor="end" font-family='"Liberation Sans", sans-serif' >0</text>
<text x="123.80" y="383.90" font-size="16" text-anchor="end" font-family='"Liberation Sans", sans-serif' >8</text>
<text x="138.00" y="402.60" font-size="16" text-anchor="middle" font-family='"Liberation Sans", sans-serif' >−8</text>
<text x="243.80" y="402.60" font-size="16" text-anchor="middle" font-family='"Liberation Sans", sans-serif' >0</text>
<text x="349.80" y="402.60" font-size="16" text-anchor="middle" font-family='"Liberation Sans", sans-serif' >8</text>
<text x="215.00" y="427.40" font-size="16.6" text-anchor="start" font-family='"Liberation Sans", sans-serif' >Bond <tspan font-style="italic">d</tspan><tspan font-style="italic" font-size="11.5" dy="4">x</tspan></text>
<text transform="translate(93.4,299.8) rotate(-90)" font-size="16.5" font-family='"Liberation Sans", sans-serif'>Bond <tspan font-style="italic">d</tspan><tspan font-style="italic" font-size="11" dy="4">y</tspan></text>
<defs><linearGradient id="cb" x1="0" y1="1" x2="0" y2="0"><stop offset="0" stop-color="#0e1a3c"/><stop offset="0.1667" stop-color="#1c2b52"/><stop offset="0.3333" stop-color="#354367"/><stop offset="0.5" stop-color="#66708c"/><stop offset="0.6667" stop-color="#a5abbd"/><stop offset="0.8333" stop-color="#d3d6df"/><stop offset="1" stop-color="#f9fafc"/></linearGradient></defs>
<rect x="48" y="174.7" width="12.2" height="193.2" fill="url(#cb)" stroke="#666" stroke-width="1.2"/>
<line x1="41" y1="174.7" x2="48" y2="174.7" stroke="#666" stroke-width="1.2"/>
<text x="33.50" y="181.20" font-size="16" text-anchor="end" font-family='"Liberation Sans", sans-serif' >0.4</text>
<line x1="41" y1="206.9" x2="48" y2="206.9" stroke="#666" stroke-width="1.2"/>
<text x="33.50" y="213.40" font-size="16" text-anchor="end" font-family='"Liberation Sans", sans-serif' >0.2</text>
<line x1="41" y1="239.1" x2="48" y2="239.1" stroke="#666" stroke-width="1.2"/>
<text x="33.50" y="245.60" font-size="16" text-anchor="end" font-family='"Liberation Sans", sans-serif' >0.1</text>
<line x1="41" y1="271.3" x2="48" y2="271.3" stroke="#666" stroke-width="1.2"/>
<text x="33.50" y="277.80" font-size="16" text-anchor="end" font-family='"Liberation Sans", sans-serif' >0</text>
<line x1="41" y1="303.5" x2="48" y2="303.5" stroke="#666" stroke-width="1.2"/>
<text x="33.50" y="310.00" font-size="16" text-anchor="end" font-family='"Liberation Sans", sans-serif' >−0.1</text>
<line x1="41" y1="335.7" x2="48" y2="335.7" stroke="#666" stroke-width="1.2"/>
<text x="33.50" y="342.20" font-size="16" text-anchor="end" font-family='"Liberation Sans", sans-serif' >−0.2</text>
<line x1="41" y1="367.9" x2="48" y2="367.9" stroke="#666" stroke-width="1.2"/>
<text x="33.50" y="374.40" font-size="16" text-anchor="end" font-family='"Liberation Sans", sans-serif' >−0.4</text>
<text x="42.2" y="389" font-size="16" font-family='"Liberation Sans", sans-serif'><tspan font-style="italic">C</tspan><tspan font-size="11" dy="4" font-weight="bold">d</tspan><tspan font-size="11" font-style="italic" dx="-5.6" dy="-12.3">zz</tspan></text>
<line x1="456.0" y1="159.6" x2="456.0" y2="383.2" stroke="#555" stroke-width="1.3"/>
<line x1="456.0" y1="383.2" x2="681" y2="383.2" stroke="#555" stroke-width="1.3"/>
<line x1="456.0" y1="367.10" x2="681" y2="367.10" stroke="#6e6e6e" stroke-width="1.5"/>
<line x1="456.0" y1="367.10" x2="462.0" y2="367.10" stroke="#555" stroke-width="1.3"/>
<text x="449.20" y="373.70" font-size="16" text-anchor="end" font-family='"Liberation Sans", sans-serif' >0</text>
<line x1="456.0" y1="313.45" x2="462.0" y2="313.45" stroke="#555" stroke-width="1.3"/>
<text x="449.20" y="320.05" font-size="16" text-anchor="end" font-family='"Liberation Sans", sans-serif' >0.1</text>
<line x1="456.0" y1="259.80" x2="462.0" y2="259.80" stroke="#555" stroke-width="1.3"/>
<text x="449.20" y="266.40" font-size="16" text-anchor="end" font-family='"Liberation Sans", sans-serif' >0.2</text>
<line x1="456.0" y1="206.15" x2="462.0" y2="206.15" stroke="#555" stroke-width="1.3"/>
<text x="449.20" y="212.75" font-size="16" text-anchor="end" font-family='"Liberation Sans", sans-serif' >0.3</text>
<line x1="487.89" y1="383.2" x2="487.89" y2="376.2" stroke="#555" stroke-width="1.3"/>
<text x="487.89" y="402.30" font-size="16" text-anchor="middle" font-family='"Liberation Sans", sans-serif' >2</text>
<line x1="541.93" y1="383.2" x2="541.93" y2="376.2" stroke="#555" stroke-width="1.3"/>
<text x="541.93" y="402.30" font-size="16" text-anchor="middle" font-family='"Liberation Sans", sans-serif' >4</text>
<line x1="595.97" y1="383.2" x2="595.97" y2="376.2" stroke="#555" stroke-width="1.3"/>
<text x="595.97" y="402.30" font-size="16" text-anchor="middle" font-family='"Liberation Sans", sans-serif' >6</text>
<line x1="650.01" y1="383.2" x2="650.01" y2="376.2" stroke="#555" stroke-width="1.3"/>
<text x="650.01" y="402.30" font-size="16" text-anchor="middle" font-family='"Liberation Sans", sans-serif' >8</text>
<text x="509.00" y="426.50" font-size="16" text-anchor="start" font-family='"Liberation Sans", sans-serif'  textLength="119" lengthAdjust="spacing">Bond distance <tspan font-style="italic">d</tspan></text>
<text transform="translate(411,312.3) rotate(-90)" font-size="16" font-family='"Liberation Sans", sans-serif'>(−)<tspan font-size="11.5" dy="-7.3">|<tspan font-style="italic">d</tspan><tspan font-size="8.5" font-style="italic" dy="2.5">x</tspan><tspan dy="-2.5"> + </tspan><tspan font-style="italic">d</tspan><tspan font-size="8.5" font-style="italic" dy="2.5">y</tspan><tspan dy="-2.5">|</tspan></tspan><tspan font-style="italic" dy="7.3">C</tspan><tspan font-size="11.5" font-style="italic" dy="4.5">d</tspan><tspan font-size="11.5" font-style="italic" dx="-6.8" dy="-14">zz</tspan></text>
<polyline points="460.87,217.15 471.98,292.26 481.05,305.40 493.29,319.89 511.40,337.59 519.77,343.01 530.31,349.13 540.85,353.53 554.90,357.82 572.46,360.50 589.76,362.59 607.32,364.31 624.88,365.38 639.74,366.08 663.25,365.22" fill="none" stroke="#d45543" stroke-width="2.2" stroke-linejoin="round"/>
<polyline points="460.87,185.23 471.98,262.48 487.75,277.67 494.92,283.94 509.51,298.43 517.88,303.26 530.31,310.77 540.85,316.78 551.39,321.93 561.92,325.41 570.57,326.86 577.60,328.95 586.24,332.44 595.16,332.12 603.81,335.12 605.43,337.43 614.34,338.13 624.88,341.62 639.74,344.73 650.01,346.18 663.25,347.52" fill="none" stroke="#f7b294" stroke-width="2.2" stroke-linejoin="round"/>
<polyline points="460.87,179.33 471.98,253.09 487.75,265.97 494.92,271.07 509.51,282.33 517.88,286.62 530.31,294.14 540.85,298.43 554.90,302.18 564.90,303.26 575.16,305.94 584.08,309.37 591.11,310.61 599.75,314.68 610.29,315.49 617.32,318.17 625.96,320.75 634.88,322.46 643.53,323.38 652.17,324.23 663.25,324.56" fill="none" stroke="#a9d2eb" stroke-width="2.2" stroke-linejoin="round"/>
<polyline points="460.87,176.64 471.98,251.00 487.75,261.95 494.92,266.24 509.51,275.36 515.72,278.85 523.02,280.72 534.90,285.02 543.82,288.23 554.22,290.92 564.90,293.60 582.19,297.09 596.24,297.95 605.16,300.57 613.80,301.49 624.34,305.89 634.61,306.74 643.53,308.14 652.17,308.46 663.25,308.46" fill="none" stroke="#3f89c6" stroke-width="2.2" stroke-linejoin="round"/>
<line x1="460.88" y1="169.64" x2="460.88" y2="183.64" stroke="#2e3a66" stroke-width="1.5"/>
<line x1="472.01" y1="234.10" x2="472.01" y2="250.10" stroke="#2e3a66" stroke-width="1.5"/>
<line x1="487.76" y1="255.09" x2="487.76" y2="273.09" stroke="#2e3a66" stroke-width="1.5"/>
<line x1="494.10" y1="249.50" x2="494.10" y2="268.50" stroke="#2e3a66" stroke-width="1.5"/>
<line x1="510.02" y1="262.14" x2="510.02" y2="282.14" stroke="#2e3a66" stroke-width="1.5"/>
<line x1="514.64" y1="276.48" x2="514.64" y2="292.48" stroke="#2e3a66" stroke-width="1.5"/>
<line x1="518.99" y1="270.65" x2="518.99" y2="288.65" stroke="#2e3a66" stroke-width="1.5"/>
<line x1="530.93" y1="275.78" x2="530.93" y2="294.78" stroke="#2e3a66" stroke-width="1.5"/>
<line x1="541.52" y1="279.31" x2="541.52" y2="299.31" stroke="#2e3a66" stroke-width="1.5"/>
<line x1="544.83" y1="279.31" x2="544.83" y2="299.31" stroke="#2e3a66" stroke-width="1.5"/>
<line x1="548.05" y1="272.24" x2="548.05" y2="295.64" stroke="#2e3a66" stroke-width="1.5"/>
<line x1="554.21" y1="282.99" x2="554.21" y2="300.99" stroke="#2e3a66" stroke-width="1.5"/>
<line x1="568.40" y1="285.07" x2="568.40" y2="304.27" stroke="#2e3a66" stroke-width="1.5"/>
<line x1="571.06" y1="286.15" x2="571.06" y2="305.35" stroke="#2e3a66" stroke-width="1.5"/>
<line x1="578.75" y1="284.67" x2="578.75" y2="304.67" stroke="#2e3a66" stroke-width="1.5"/>
<line x1="586.06" y1="290.80" x2="586.06" y2="308.20" stroke="#2e3a66" stroke-width="1.5"/>
<line x1="590.74" y1="287.86" x2="590.74" y2="306.86" stroke="#2e3a66" stroke-width="1.5"/>
<line x1="595.28" y1="303.99" x2="595.28" y2="323.99" stroke="#2e3a66" stroke-width="1.5"/>
<line x1="597.51" y1="297.44" x2="597.51" y2="314.44" stroke="#2e3a66" stroke-width="1.5"/>
<line x1="604.02" y1="299.09" x2="604.02" y2="317.09" stroke="#2e3a66" stroke-width="1.5"/>
<line x1="606.11" y1="299.62" x2="606.11" y2="317.62" stroke="#2e3a66" stroke-width="1.5"/>
<line x1="614.31" y1="290.97" x2="614.31" y2="310.17" stroke="#2e3a66" stroke-width="1.5"/>
<line x1="622.16" y1="303.53" x2="622.16" y2="327.13" stroke="#2e3a66" stroke-width="1.5"/>
<line x1="624.07" y1="306.74" x2="624.07" y2="328.74" stroke="#2e3a66" stroke-width="1.5"/>
<line x1="627.83" y1="311.57" x2="627.83" y2="333.57" stroke="#2e3a66" stroke-width="1.5"/>
<line x1="629.69" y1="299.27" x2="629.69" y2="322.27" stroke="#2e3a66" stroke-width="1.5"/>
<line x1="638.72" y1="294.44" x2="638.72" y2="317.44" stroke="#2e3a66" stroke-width="1.5"/>
<line x1="643.93" y1="312.64" x2="643.93" y2="334.64" stroke="#2e3a66" stroke-width="1.5"/>
<line x1="649.04" y1="305.89" x2="649.04" y2="333.89" stroke="#2e3a66" stroke-width="1.5"/>
<line x1="650.71" y1="311.11" x2="650.71" y2="335.11" stroke="#2e3a66" stroke-width="1.5"/>
<line x1="655.65" y1="296.99" x2="655.65" y2="322.39" stroke="#2e3a66" stroke-width="1.5"/>
<line x1="662.08" y1="303.89" x2="662.08" y2="335.89" stroke="#2e3a66" stroke-width="1.5"/>
<line x1="663.66" y1="304.28" x2="663.66" y2="332.28" stroke="#2e3a66" stroke-width="1.5"/>
<line x1="665.22" y1="299.13" x2="665.22" y2="333.13" stroke="#2e3a66" stroke-width="1.5"/>
<line x1="674.41" y1="296.77" x2="674.41" y2="324.77" stroke="#2e3a66" stroke-width="1.5"/>
<line x1="675.92" y1="300.33" x2="675.92" y2="352.33" stroke="#2e3a66" stroke-width="1.5"/>
<circle cx="460.88" cy="176.64" r="2.75" fill="#6b79a1" stroke="#2e3a66" stroke-width="1.3"/>
<circle cx="472.01" cy="242.10" r="2.75" fill="#6b79a1" stroke="#2e3a66" stroke-width="1.3"/>
<circle cx="487.76" cy="264.09" r="2.75" fill="#6b79a1" stroke="#2e3a66" stroke-width="1.3"/>
<circle cx="494.10" cy="259.00" r="2.75" fill="#6b79a1" stroke="#2e3a66" stroke-width="1.3"/>
<circle cx="510.02" cy="272.14" r="2.75" fill="#6b79a1" stroke="#2e3a66" stroke-width="1.3"/>
<circle cx="514.64" cy="284.48" r="2.75" fill="#6b79a1" stroke="#2e3a66" stroke-width="1.3"/>
<circle cx="518.99" cy="279.65" r="2.75" fill="#6b79a1" stroke="#2e3a66" stroke-width="1.3"/>
<circle cx="530.93" cy="285.28" r="2.75" fill="#6b79a1" stroke="#2e3a66" stroke-width="1.3"/>
<circle cx="541.52" cy="289.31" r="2.75" fill="#6b79a1" stroke="#2e3a66" stroke-width="1.3"/>
<circle cx="544.83" cy="289.31" r="2.75" fill="#6b79a1" stroke="#2e3a66" stroke-width="1.3"/>
<circle cx="548.05" cy="283.94" r="2.75" fill="#6b79a1" stroke="#2e3a66" stroke-width="1.3"/>
<circle cx="554.21" cy="291.99" r="2.75" fill="#6b79a1" stroke="#2e3a66" stroke-width="1.3"/>
<circle cx="568.40" cy="294.67" r="2.75" fill="#6b79a1" stroke="#2e3a66" stroke-width="1.3"/>
<circle cx="571.06" cy="295.75" r="2.75" fill="#6b79a1" stroke="#2e3a66" stroke-width="1.3"/>
<circle cx="578.75" cy="294.67" r="2.75" fill="#6b79a1" stroke="#2e3a66" stroke-width="1.3"/>
<circle cx="586.06" cy="299.50" r="2.75" fill="#6b79a1" stroke="#2e3a66" stroke-width="1.3"/>
<circle cx="590.74" cy="297.36" r="2.75" fill="#6b79a1" stroke="#2e3a66" stroke-width="1.3"/>
<circle cx="595.28" cy="313.99" r="2.75" fill="#6b79a1" stroke="#2e3a66" stroke-width="1.3"/>
<circle cx="597.51" cy="305.94" r="2.75" fill="#6b79a1" stroke="#2e3a66" stroke-width="1.3"/>
<circle cx="604.02" cy="308.09" r="2.75" fill="#6b79a1" stroke="#2e3a66" stroke-width="1.3"/>
<circle cx="606.11" cy="308.62" r="2.75" fill="#6b79a1" stroke="#2e3a66" stroke-width="1.3"/>
<circle cx="614.31" cy="300.57" r="2.75" fill="#6b79a1" stroke="#2e3a66" stroke-width="1.3"/>
<circle cx="622.16" cy="315.33" r="2.75" fill="#6b79a1" stroke="#2e3a66" stroke-width="1.3"/>
<circle cx="624.07" cy="317.74" r="2.75" fill="#6b79a1" stroke="#2e3a66" stroke-width="1.3"/>
<circle cx="627.83" cy="322.57" r="2.75" fill="#6b79a1" stroke="#2e3a66" stroke-width="1.3"/>
<circle cx="629.69" cy="310.77" r="2.75" fill="#6b79a1" stroke="#2e3a66" stroke-width="1.3"/>
<circle cx="638.72" cy="305.94" r="2.75" fill="#6b79a1" stroke="#2e3a66" stroke-width="1.3"/>
<circle cx="643.93" cy="323.64" r="2.75" fill="#6b79a1" stroke="#2e3a66" stroke-width="1.3"/>
<circle cx="649.04" cy="319.89" r="2.75" fill="#6b79a1" stroke="#2e3a66" stroke-width="1.3"/>
<circle cx="650.71" cy="323.11" r="2.75" fill="#6b79a1" stroke="#2e3a66" stroke-width="1.3"/>
<circle cx="655.65" cy="309.69" r="2.75" fill="#6b79a1" stroke="#2e3a66" stroke-width="1.3"/>
<circle cx="662.08" cy="319.89" r="2.75" fill="#6b79a1" stroke="#2e3a66" stroke-width="1.3"/>
<circle cx="663.66" cy="318.28" r="2.75" fill="#6b79a1" stroke="#2e3a66" stroke-width="1.3"/>
<circle cx="665.22" cy="316.13" r="2.75" fill="#6b79a1" stroke="#2e3a66" stroke-width="1.3"/>
<circle cx="674.41" cy="310.77" r="2.75" fill="#6b79a1" stroke="#2e3a66" stroke-width="1.3"/>
<circle cx="675.92" cy="326.33" r="2.75" fill="#6b79a1" stroke="#2e3a66" stroke-width="1.3"/>
<line x1="565.5" y1="177.50" x2="595.2" y2="177.50" stroke="#3f89c6" stroke-width="2"/>
<line x1="580" y1="170.50" x2="580" y2="184.50" stroke="#3f89c6" stroke-width="2"/>
<text x="601.00" y="183.40" font-size="16.5" text-anchor="start" font-family='"Liberation Sans", sans-serif' ><tspan font-style="italic">T</tspan>/<tspan font-style="italic">t</tspan> = 0</text>
<line x1="565.5" y1="198.60" x2="595.2" y2="198.60" stroke="#a9d2eb" stroke-width="2"/>
<line x1="580" y1="191.60" x2="580" y2="205.60" stroke="#a9d2eb" stroke-width="2"/>
<text x="601.00" y="204.50" font-size="16.5" text-anchor="start" font-family='"Liberation Sans", sans-serif' ><tspan font-style="italic">T</tspan>/<tspan font-style="italic">t</tspan> = 0.10</text>
<line x1="565.5" y1="219.70" x2="595.2" y2="219.70" stroke="#f7b294" stroke-width="2"/>
<line x1="580" y1="212.70" x2="580" y2="226.70" stroke="#f7b294" stroke-width="2"/>
<text x="601.00" y="225.60" font-size="16.5" text-anchor="start" font-family='"Liberation Sans", sans-serif' ><tspan font-style="italic">T</tspan>/<tspan font-style="italic">t</tspan> = 0.15</text>
<line x1="565.5" y1="240.80" x2="595.2" y2="240.80" stroke="#d45543" stroke-width="2"/>
<line x1="580" y1="233.80" x2="580" y2="247.80" stroke="#d45543" stroke-width="2"/>
<text x="601.00" y="246.70" font-size="16.5" text-anchor="start" font-family='"Liberation Sans", sans-serif' ><tspan font-style="italic">T</tspan>/<tspan font-style="italic">t</tspan> = 0.25</text>
<defs><filter id="bl2" x="-50%" y="-50%" width="200%" height="200%"><feGaussianBlur stdDeviation="1.6"/></filter><filter id="bl4" x="-20%" y="-20%" width="140%" height="140%"><feGaussianBlur stdDeviation="2.5"/></filter><clipPath id="eclip"><rect x="63.2" y="466.4" width="145.2" height="144.8"/></clipPath></defs>
<rect x="63.2" y="466.4" width="145.2" height="144.8" fill="#f5f9fd"/>
<g clip-path="url(#eclip)" filter="url(#bl4)" fill="none" stroke="#e2ecf6">
<circle cx="136.6" cy="537.6" r="17" stroke-width="5" stroke-opacity="0.6"/>
<circle cx="136.6" cy="537.6" r="33" stroke-width="5" stroke-opacity="0.45"/>
<circle cx="136.6" cy="537.6" r="49" stroke-width="5" stroke-opacity="0.4"/>
<circle cx="136.6" cy="537.6" r="65" stroke-width="5" stroke-opacity="0.3"/>
<circle cx="136.6" cy="537.6" r="81" stroke-width="5" stroke-opacity="0.25"/>
</g>
<g filter="url(#bl2)"><rect x="129.4" y="530.5" width="14.8" height="14.4" rx="3.5" fill="#5a9bd3"/><rect x="130.8" y="531.8" width="12" height="11.6" rx="3" fill="#1f6cb3"/><rect x="132.4" y="533.2" width="8.8" height="8.8" rx="2.5" fill="#08407f"/></g>
<line x1="63.2" y1="611.2" x2="208.39999999999998" y2="466.4" stroke="#858585" stroke-width="1.7" stroke-dasharray="5,2.8"/>
<rect x="63.2" y="466.4" width="145.2" height="144.8" fill="none" stroke="#474747" stroke-width="1.5"/>
<line x1="63.2" y1="465.7" x2="63.2" y2="611.9000000000001" stroke="#7c7c7c" stroke-width="2"/>
<rect x="205.2" y="466.4" width="3.2" height="3.2" fill="#6a6a6a"/>
<rect x="63.2" y="608.0" width="3.2" height="3.2" fill="#6a6a6a"/>
<line x1="63.2" y1="540.4" x2="70.2" y2="540.4" stroke="#2a2a2a" stroke-width="1.3"/>
<line x1="136.3" y1="611.2" x2="136.3" y2="604.2" stroke="#444" stroke-width="1.3"/>
<text x="54.20" y="472.60" font-size="18" text-anchor="end" font-family='"Liberation Serif", serif' ><tspan font-family='Liberation Sans' font-size="16">2</tspan>π</text>
<text x="55.00" y="545.00" font-size="18" text-anchor="end" font-family='"Liberation Serif", serif' >π</text>
<text x="54.50" y="617.00" font-size="16" text-anchor="end" font-family='"Liberation Sans", sans-serif' >0</text>
<text x="62.50" y="630.00" font-size="16" text-anchor="middle" font-family='"Liberation Sans", sans-serif' >0</text>
<text x="136.10" y="629.80" font-size="18" text-anchor="middle" font-family='"Liberation Serif", serif' >π</text>
<text x="206.40" y="629.80" font-size="18" text-anchor="middle" font-family='"Liberation Serif", serif' ><tspan font-family='Liberation Sans' font-size="16">2</tspan>π</text>
<text x="67.20" y="590.00" font-size="17" text-anchor="start" font-family='"Liberation Serif", serif' >Γ</text>
<text x="140.00" y="561.00" font-size="16.5" text-anchor="start" font-family='"Liberation Sans", sans-serif' font-style="italic">M</text>
<text x="63.60" y="652.80" font-size="16.5" text-anchor="start" font-family='"Liberation Sans", sans-serif' >Quasimomentum <tspan font-style="italic">q</tspan><tspan font-style="italic" font-size="11" dy="4">x</tspan></text>
<text transform="translate(21.3,610.6) rotate(-90)" font-size="16.5" font-family='"Liberation Sans", sans-serif'>Quasimomentum <tspan font-style="italic">q</tspan><tspan font-style="italic" font-size="11" dy="4">y</tspan></text>
<line x1="297.5" y1="466.2" x2="297.5" y2="610.8" stroke="#555" stroke-width="1.3"/>
<line x1="297.5" y1="610.8" x2="442.2" y2="610.8" stroke="#555" stroke-width="1.3"/>
<line x1="297.5" y1="602.20" x2="304.5" y2="602.20" stroke="#555" stroke-width="1.3"/>
<text x="290.00" y="608.50" font-size="16" text-anchor="end" font-family='"Liberation Sans", sans-serif' >0</text>
<line x1="297.5" y1="559.33" x2="304.5" y2="559.33" stroke="#555" stroke-width="1.3"/>
<text x="290.00" y="565.63" font-size="16" text-anchor="end" font-family='"Liberation Sans", sans-serif' >10</text>
<line x1="297.5" y1="516.46" x2="304.5" y2="516.46" stroke="#555" stroke-width="1.3"/>
<text x="290.00" y="522.76" font-size="16" text-anchor="end" font-family='"Liberation Sans", sans-serif' >20</text>
<line x1="297.5" y1="473.59" x2="304.5" y2="473.59" stroke="#555" stroke-width="1.3"/>
<text x="290.00" y="479.89" font-size="16" text-anchor="end" font-family='"Liberation Sans", sans-serif' >30</text>
<line x1="303.9" y1="610.8" x2="303.9" y2="603.8" stroke="#555" stroke-width="1.3"/>
<line x1="370.4" y1="610.8" x2="370.4" y2="603.8" stroke="#555" stroke-width="1.3"/>
<line x1="437.5" y1="610.8" x2="437.5" y2="603.8" stroke="#555" stroke-width="1.3"/>
<text x="303.90" y="629.60" font-size="16" text-anchor="middle" font-family='"Liberation Serif", serif' >Γ</text>
<text x="371.00" y="630.40" font-size="16.8" text-anchor="middle" font-family='"Liberation Sans", sans-serif' >M</text>
<text x="437.50" y="629.60" font-size="16" text-anchor="middle" font-family='"Liberation Serif", serif' >Γ</text>
<text transform="translate(258.5,610.8) rotate(-90)" font-size="16" font-family='"Liberation Sans", sans-serif'>Structure factor S(<tspan font-weight="bold">q</tspan>)</text>
<path d="M303.60,596.20 C304.38,597.28 306.53,602.17 308.30,602.70 C310.07,603.23 312.32,599.13 314.20,599.40 C316.08,599.67 317.80,604.15 319.60,604.30 C321.40,604.45 323.38,600.83 325.00,600.30 C326.62,599.77 327.58,602.00 329.30,601.10 C331.02,600.20 333.50,595.22 335.30,594.90 C337.10,594.58 338.57,598.83 340.10,599.20 C341.63,599.57 342.87,596.20 344.50,597.10 C346.13,598.00 348.02,605.57 349.90,604.60 C351.78,603.63 354.10,591.22 355.80,591.30 C357.50,591.38 359.00,604.07 360.10,605.10 C361.20,606.13 361.58,609.70 362.40,597.50 L365.00,531.90 L367.30,487.30 L368.40,473.50 L371.40,473.50 L372.50,487.30 L374.80,531.90 L377.40,597.50 C378.22,609.70 378.60,606.13 379.70,605.10 C380.80,604.07 382.30,591.38 384.00,591.30 C385.70,591.22 388.02,603.63 389.90,604.60 C391.78,605.57 393.67,598.00 395.30,597.10 C396.93,596.20 398.17,599.57 399.70,599.20 C401.23,598.83 402.70,594.58 404.50,594.90 C406.30,595.22 408.78,600.20 410.50,601.10 C412.22,602.00 413.18,599.77 414.80,600.30 C416.42,600.83 418.40,604.45 420.20,604.30 C422.00,604.15 423.72,599.67 425.60,599.40 C427.48,599.13 429.73,603.23 431.50,602.70 C433.27,602.17 435.42,597.28 436.20,596.20" fill="none" stroke="#3b4d7e" stroke-width="1.8" stroke-linejoin="round"/>
<rect x="539.4" y="473.8" width="144.89999999999998" height="31" fill="#dae1ec"/>
<line x1="539.4" y1="466.3" x2="539.4" y2="611" stroke="#333" stroke-width="1.3"/>
<line x1="539.4" y1="611" x2="685" y2="611" stroke="#333" stroke-width="1.3"/>
<line x1="539.4" y1="504.80" x2="546.4" y2="504.80" stroke="#333" stroke-width="1.3"/>
<text x="533.30" y="511.20" font-size="16" text-anchor="end" font-family='"Liberation Sans", sans-serif' >0.15</text>
<line x1="539.4" y1="553.30" x2="546.4" y2="553.30" stroke="#333" stroke-width="1.3"/>
<text x="533.30" y="559.70" font-size="16" text-anchor="end" font-family='"Liberation Sans", sans-serif' >0.10</text>
<line x1="539.4" y1="601.80" x2="546.4" y2="601.80" stroke="#333" stroke-width="1.3"/>
<text x="533.30" y="608.20" font-size="16" text-anchor="end" font-family='"Liberation Sans", sans-serif' >0.05</text>
<line x1="539.40" y1="611" x2="539.40" y2="604" stroke="#333" stroke-width="1.3"/>
<text x="539.40" y="630.50" font-size="16" text-anchor="middle" font-family='"Liberation Sans", sans-serif' >0</text>
<line x1="597.70" y1="611" x2="597.70" y2="604" stroke="#333" stroke-width="1.3"/>
<text x="597.70" y="630.50" font-size="16" text-anchor="middle" font-family='"Liberation Sans", sans-serif' >0.1</text>
<line x1="656.00" y1="611" x2="656.00" y2="604" stroke="#333" stroke-width="1.3"/>
<text x="656.00" y="630.50" font-size="16" text-anchor="middle" font-family='"Liberation Sans", sans-serif' >0.2</text>
<path d="M539.40,487.00 C541.70,487.12 548.73,487.23 553.20,487.70 C557.67,488.17 561.65,488.58 566.20,489.80 C570.75,491.02 575.83,492.80 580.50,495.00 C585.17,497.20 589.65,499.77 594.20,503.00 C598.75,506.23 603.63,510.23 607.80,514.40 C611.97,518.57 615.40,523.27 619.20,528.00 C623.00,532.73 626.80,537.87 630.60,542.80 C634.40,547.73 638.20,552.48 642.00,557.60 C645.80,562.72 649.60,568.57 653.40,573.50 C657.20,578.43 661.02,583.22 664.80,587.20 C668.58,591.18 672.80,594.90 676.10,597.40 C679.40,599.90 683.18,601.40 684.60,602.20" fill="none" stroke="#7d92a9" stroke-width="1.7"/>
<line x1="539.4" y1="489.8" x2="684.3" y2="489.8" stroke="#1f4f97" stroke-width="2"/>
<line x1="566.2" y1="466.3" x2="566.2" y2="611" stroke="#1f5aa6" stroke-width="1.8" stroke-dasharray="4.2,2.4"/>
<text x="612.60" y="484.80" font-size="16" text-anchor="start" font-family='"Liberation Sans", sans-serif' >Exp.</text>
<text x="554.80" y="655.30" font-size="16.3" text-anchor="start" font-family='"Liberation Sans", sans-serif' >Temperature <tspan font-style="italic">T</tspan>/<tspan font-style="italic">t</tspan></text>
<text transform="translate(484.8,608.3) rotate(-90)" font-size="16" font-family='"Liberation Sans", sans-serif'>Magnetization (m<tspan font-size="11.5" dy="-7.6">z</tspan><tspan dy="7.6">)</tspan><tspan font-size="11.5" dy="-7.6">2</tspan></text>
</svg>
</body></html>
